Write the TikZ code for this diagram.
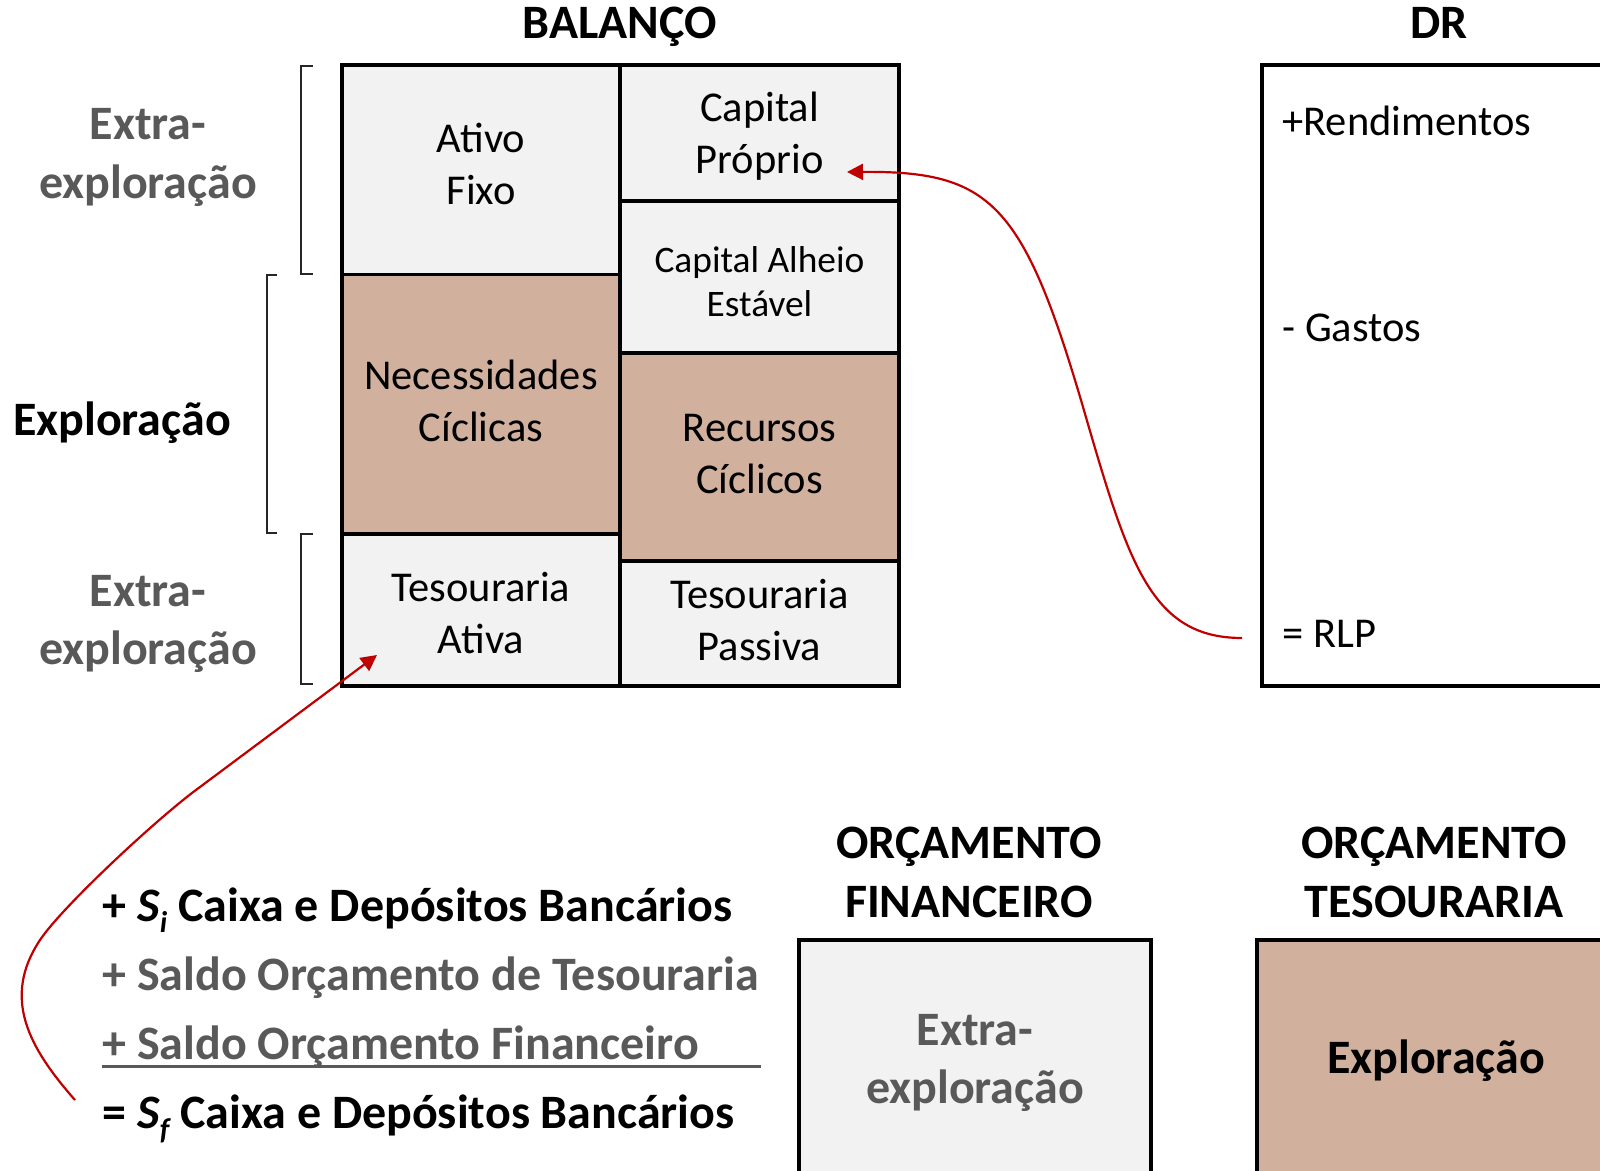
\documentclass[tikz,border=0pt]{standalone}
\usepackage{fontspec}
\setmainfont{Carlito}
\usetikzlibrary{arrows.meta}
\definecolor{lightfill}{RGB}{242,242,242}
\definecolor{tanfill}{RGB}{209,177,158}
\definecolor{greytext}{RGB}{89,89,89}
\definecolor{arrowred}{RGB}{192,0,0}
\newcommand\pxu{0.5pt}
\newcommand\regfont{\fontsize{21.25}{26}\selectfont}
\newcommand\smallregfont{\fontsize{18.7}{22}\selectfont}
\newcommand\boldlabelfont{\fontsize{24}{29.2}\selectfont\bfseries}
\begin{document}
\begin{tikzpicture}[x=0.5pt,y=-0.5pt,
  cell/.style={draw=black, line width=1.6pt, inner sep=0pt},
  celltext/.style={inner sep=0pt, align=center, font=\regfont},
  plainbox/.style={draw=black, line width=1.6pt, inner sep=0pt},
  title/.style={inner sep=0pt, align=center, font=\boldlabelfont},
  sidelabel/.style={inner sep=0pt, align=center, font=\boldlabelfont},
  drtext/.style={inner sep=0pt, anchor=west, font=\regfont},
  listline/.style={inner sep=0pt, anchor=base west, font=\boldlabelfont},
  bracket/.style={draw=black!85, line width=0.6pt},
  redarrow/.style={draw=arrowred, line width=1.1pt, -{Triangle[length=8pt,width=8pt]}},
  rule/.style={draw=greytext, line width=1.5pt}
]
\useasboundingbox (0,0) rectangle (1600,1171);
\clip (0,0) rectangle (1600,1171);

% titles
\node[title] (tbal) at (620,27) {BALANÇO};
\node[title] (tdr) at (1439,22.5) {DR};

% balance sheet cells
\node[cell, fill=lightfill, minimum width=278*\pxu, minimum height=209.5*\pxu] (af) at (481,169.75) {};
\node[cell, fill=tanfill, minimum width=278*\pxu, minimum height=259.5*\pxu] (nc) at (481,404.25) {};
\node[cell, fill=lightfill, minimum width=278*\pxu, minimum height=152*\pxu] (ta) at (481,610) {};
\node[cell, fill=lightfill, minimum width=279*\pxu, minimum height=136*\pxu] (cp) at (759.5,133) {};
\node[cell, fill=lightfill, minimum width=279*\pxu, minimum height=152*\pxu] (cae) at (759.5,277) {};
\node[cell, fill=tanfill, minimum width=279*\pxu, minimum height=208*\pxu] (rc) at (759.5,457) {};
\node[cell, fill=lightfill, minimum width=279*\pxu, minimum height=125*\pxu] (tp) at (759.5,623.5) {};

\node[celltext] (aft) at (481,163.5) {Ativo\\Fixo};
\node[celltext] (nct) at (481,401) {Necessidades\\Cíclicas};
\node[celltext] (tat) at (481,613) {Tesouraria\\Ativa};
\node[celltext] (cpt) at (759.5,136) {Capital\\Próprio};
\node[celltext, font=\smallregfont] (caet) at (759.5,281.5) {Capital Alheio\\Estável};
\node[celltext] (rct) at (759.5,454.5) {Recursos\\Cíclicos};
\node[celltext] (tpt) at (759.5,620.5) {Tesouraria\\Passiva};

% side labels and brackets
\node[sidelabel, text=greytext] (ext1) at (148,157.5) {Extra-\\exploração};
\node[sidelabel] (expl) at (122,423) {Exploração};
\node[sidelabel, text=greytext] (ext2) at (148,624) {Extra-\\exploração};
\draw[bracket] (313,66) -- (301,66) -- (301,274) -- (313,274);
\draw[bracket] (277,275) -- (267,275) -- (267,533) -- (277,533);
\draw[bracket] (313,534) -- (301,534) -- (301,684) -- (313,684);

% DR box
\node[plainbox, minimum width=358*\pxu, minimum height=621*\pxu] (dr) at (1441,375.5) {};
\node[drtext] (rend) at (1282,121) {+Rendimentos};
\node[drtext] (gast) at (1282,327.5) {- Gastos};
\node[drtext] (rlp) at (1282,634) {= RLP};

% budget boxes
\node[title] (tof) at (969,872.5) {ORÇAMENTO\\FINANCEIRO};
\node[title] (tot) at (1434,872.5) {ORÇAMENTO\\TESOURARIA};
\node[plainbox, fill=lightfill, minimum width=352*\pxu, minimum height=240*\pxu] (of) at (975,1060) {};
\node[plainbox, fill=tanfill, minimum width=363*\pxu, minimum height=240*\pxu] (ot) at (1438.5,1060) {};
\node[sidelabel, text=greytext] (oftext) at (975,1063) {Extra-\\exploração};
\node[sidelabel] (ottext) at (1436,1061) {Exploração};

% cash list
\node[listline] (l1) at (102,921) {+ \textit{S}\raisebox{-0.24em}{\fontsize{15}{15}\selectfont\itshape i} Caixa e Depósitos Bancários};
\node[listline, text=greytext] (l2) at (102,990.5) {+ Saldo Orçamento de Tesouraria};
\node[listline, text=greytext] (l3) at (102,1059.7) {+ Saldo Orçamento Financeiro};
\node[listline] (l4) at (102,1128) {= \textit{S}\raisebox{-0.24em}{\fontsize{15}{15}\selectfont\itshape f} Caixa e Depósitos Bancários};
\draw[rule] (102,1066) -- (761,1066);

% arrows
\coordinate (rlpS) at (1242,638);
\coordinate (cpE) at (847,172);
\coordinate (sfS) at (75,1100);
\coordinate (taE) at (377,655);
\draw[redarrow] (rlpS) .. controls (1150,638) and (1128,562) .. (1083,407) .. controls (1023,202) and (990,171) .. (cpE);
\draw[redarrow] (sfS) .. controls (28.8,1047.5) and (1.5,998) .. (40,940) .. controls (62,906.8) and (159.4,816.2) .. (200,787) -- (taE);
\end{tikzpicture}
\end{document}
